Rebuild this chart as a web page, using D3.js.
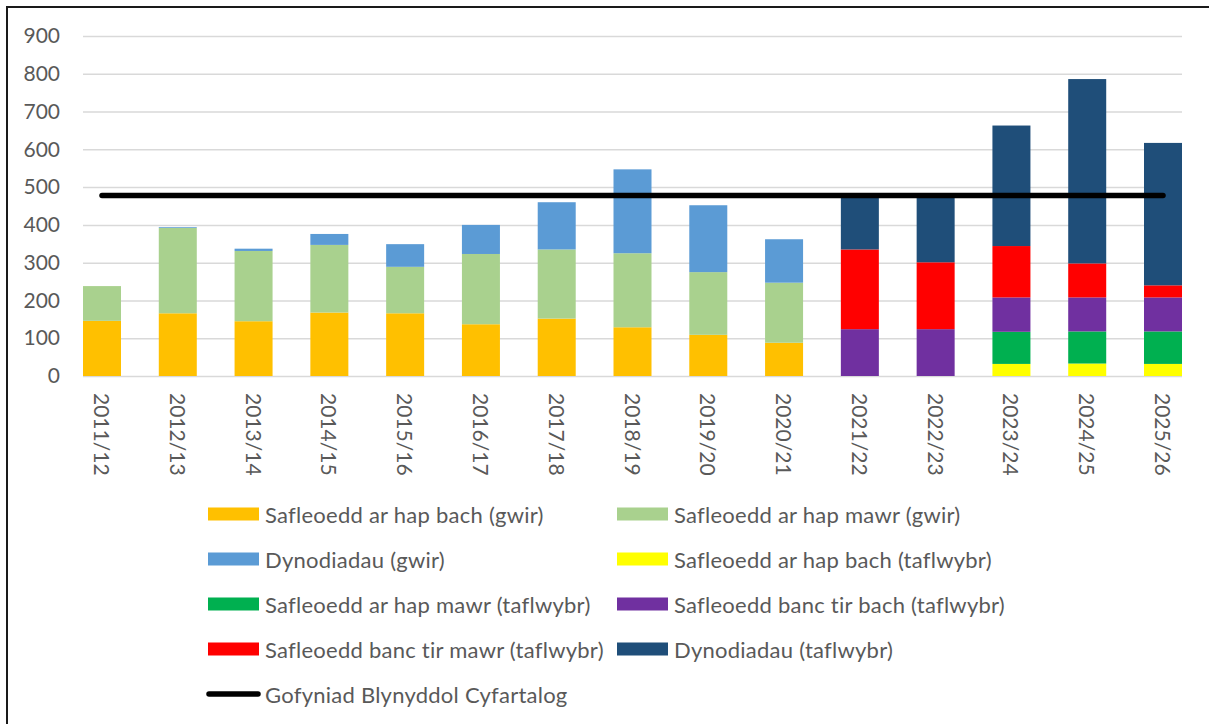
<!DOCTYPE html>
<html>
<head>
<meta charset="utf-8">
<script src="https://cdn.jsdelivr.net/npm/d3@7"></script>
<style>
  html, body { margin: 0; padding: 0; background: #ffffff; }
  svg { display: block; }
  text { font-family: Lato, "Open Sans", sans-serif; fill: #595959; }
</style>
</head>
<body>
<svg id="chart" width="1209" height="724"></svg>
<script>
// Financial years along the x axis
const years = ["2011/12", "2012/13", "2013/14", "2014/15", "2015/16", "2016/17", "2017/18",
  "2018/19", "2019/20", "2020/21", "2021/22", "2022/23", "2023/24", "2024/25", "2025/26"];

// Stacked series, bottom to top (housing completions: actual "gwir" and projected "taflwybr")
const seriesNames = [
  "Safleoedd ar hap bach (gwir)",
  "Safleoedd ar hap mawr (gwir)",
  "Dynodiadau (gwir)",
  "Safleoedd ar hap bach (taflwybr)",
  "Safleoedd ar hap mawr (taflwybr)",
  "Safleoedd banc tir bach (taflwybr)",
  "Safleoedd banc tir mawr (taflwybr)",
  "Dynodiadau (taflwybr)"
];
const seriesColors = ["#FFC000", "#A9D18E", "#5B9BD5", "#FFFF00", "#00B050", "#7030A0", "#FF0000", "#1F4E79"];

const hapBachGwir   = [146, 166, 145, 168, 166, 137, 152, 129, 109,  88,   0,   0,   0,   0,   0];
const hapMawrGwir   = [ 92, 226, 186, 179, 123, 186, 183, 196, 166, 159,   0,   0,   0,   0,   0];
const dynodiadGwir  = [  0,   2,   6,  29,  60,  77, 125, 222, 177, 115,   0,   0,   0,   0,   0];
const hapBachTaf    = [  0,   0,   0,   0,   0,   0,   0,   0,   0,   0,   0,   0,  32,  33,  32];
const hapMawrTaf    = [  0,   0,   0,   0,   0,   0,   0,   0,   0,   0,   0,   0,  85,  85,  86];
const bancBachTaf   = [  0,   0,   0,   0,   0,   0,   0,   0,   0,   0, 124, 124,  91,  90,  90];
const bancMawrTaf   = [  0,   0,   0,   0,   0,   0,   0,   0,   0,   0, 211, 177, 136,  90,  32];
const dynodiadTaf   = [  0,   0,   0,   0,   0,   0,   0,   0,   0,   0, 143, 177, 319, 488, 377];

// Average annual requirement line
const lineName = "Gofyniad Blynyddol Cyfartalog";
const requirement = 478;

const yTicks = [0, 100, 200, 300, 400, 500, 600, 700, 800, 900];

const seriesValues = [hapBachGwir, hapMawrGwir, dynodiadGwir, hapBachTaf, hapMawrTaf,
  bancBachTaf, bancMawrTaf, dynodiadTaf];

// Rows for d3.stack
const table = years.map((yr, i) => {
  const row = { year: yr };
  seriesNames.forEach((n, s) => { row[n] = seriesValues[s][i]; });
  return row;
});

const svg = d3.select("#chart");

// Frame edges
svg.append("line").attr("x1", 7).attr("x2", 1209).attr("y1", 7).attr("y2", 7)
  .attr("stroke", "#1a1a1a").attr("stroke-width", 2);
svg.append("line").attr("x1", 7).attr("x2", 7).attr("y1", 6).attr("y2", 724)
  .attr("stroke", "#1a1a1a").attr("stroke-width", 2);

const plotLeft = 83, plotRight = 1182, plotTop = 36, plotBottom = 376;
const barWidth = 38;

const x = d3.scalePoint().domain(years).range([102, 1163]);
const y = d3.scaleLinear().domain([0, 900]).range([plotBottom, plotTop]);

// Gridlines and y tick labels
const yAxis = d3.axisLeft(y).tickValues(yTicks).tickSize(-(plotRight - plotLeft)).tickPadding(23);
const gy = svg.append("g").attr("transform", `translate(${plotLeft},0)`).call(yAxis);
gy.select(".domain").remove();
gy.selectAll(".tick line").attr("stroke", "#d9d9d9").attr("stroke-width", 1.5);
gy.selectAll(".tick text").attr("font-size", 21).attr("fill", "#595959")
  .style("font-family", "Lato, sans-serif");

// Stacked bars
const stack = d3.stack().keys(seriesNames);
const layers = stack(table);
svg.append("g").selectAll("g").data(layers).join("g")
  .attr("fill", (d, i) => seriesColors[i])
  .selectAll("rect").data(d => d.filter(p => p[1] - p[0] > 0)).join("rect")
  .attr("x", d => x(d.data.year) - barWidth / 2)
  .attr("width", barWidth)
  .attr("y", d => y(d[1]))
  .attr("height", d => y(d[0]) - y(d[1]));

// Category axis labels, rotated
const xAxis = d3.axisBottom(x).tickSize(0).tickPadding(0);
const gx = svg.append("g").attr("transform", `translate(0,${plotBottom})`).call(xAxis);
gx.select(".domain").remove();
gx.selectAll(".tick text")
  .attr("font-size", 21).attr("fill", "#595959")
  .style("font-family", "Lato, sans-serif")
  .attr("text-anchor", "start").attr("dy", null).attr("y", null)
  .attr("dominant-baseline", "central")
  .attr("transform", "translate(0,17) rotate(90)");

// Requirement line
const line = d3.line().x(d => x(d)).y(() => y(requirement));
svg.append("path").datum([years[0], years[years.length - 1]])
  .attr("d", line).attr("fill", "none").attr("stroke", "#000000")
  .attr("stroke-width", 5.5).attr("stroke-linecap", "round");

// Legend
const legend = svg.append("g");
const colX = [208, 617];
seriesNames.forEach((name, i) => {
  const cx = colX[i % 2];
  const cy = 514 + 45 * Math.floor(i / 2);
  legend.append("rect").attr("x", cx).attr("y", cy - 6.5).attr("width", 51).attr("height", 13)
    .attr("fill", seriesColors[i]);
  legend.append("text").attr("x", cx + 57).attr("y", cy).attr("dominant-baseline", "central")
    .attr("font-size", 22).attr("letter-spacing", 0.25).text(name);
});
const ly = 514 + 45 * 4;
legend.append("line").attr("x1", 209).attr("x2", 258).attr("y1", ly).attr("y2", ly)
  .attr("stroke", "#000").attr("stroke-width", 5.5).attr("stroke-linecap", "round");
legend.append("text").attr("x", 265).attr("y", ly).attr("dominant-baseline", "central")
  .attr("font-size", 22).attr("letter-spacing", 0.25).text(lineName);
</script>
</body>
</html>
